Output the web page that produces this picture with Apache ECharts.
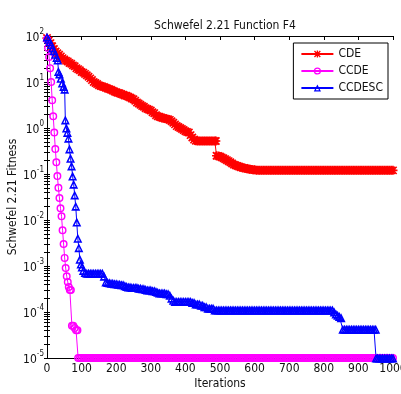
<!DOCTYPE html>
<html>
<head>
<meta charset="utf-8" />
<title>Schwefel 2.21 Function F4</title>
<script src="https://cdn.jsdelivr.net/npm/echarts@6/dist/echarts.min.js"></script>
<style>
  * { margin: 0; padding: 0; }
  html, body { width: 401px; height: 394px; background: #fff; overflow: hidden; }
</style>
</head>
<body>
<div id="main" style="width: 401px; height: 394px;"></div>
<script>
// [iteration, fitness] (markers every few iterations, like the original)
const cde = [
  [0,90],[5,80],[10,70],[15,60],[20,52],[25,46],[30,42],[35,39],[40,36],[45,33],
  [50,31],[55,29],[60,28],[65,26],[70,25],[75,23],[80,22],[85,20],[90,19],[95,18],
  [100,16.5],[105,16],[110,15],[115,14],[120,13],[125,12],[130,11],[135,10],[140,9.5],[145,9],
  [150,8.5],[155,8.2],[160,8],[165,7.8],[170,7.5],[175,7.2],[180,7],[185,6.8],[190,6.5],[195,6.2],
  [200,6],[205,5.8],[210,5.7],[215,5.5],[220,5.3],[225,5.1],[230,5],[235,4.8],[240,4.6],[245,4.4],
  [250,4.2],[255,3.9],[260,3.6],[265,3.4],[270,3.2],[275,3.0],[280,2.9],[285,2.7],[290,2.6],[295,2.5],
  [300,2.4],[305,2.2],[310,2.1],[315,1.9],[320,1.8],[325,1.75],[330,1.7],[335,1.65],[340,1.6],[345,1.58],
  [350,1.55],[355,1.5],[360,1.4],[365,1.3],[370,1.2],[375,1.1],[380,1.05],[385,1.0],[390,0.95],[395,0.9],
  [400,0.85],[405,0.82],[410,0.8],[415,0.7],[420,0.62],[425,0.56],[430,0.53],[435,0.52],[440,0.52],[445,0.52],
  [450,0.52],[455,0.52],[460,0.52],[465,0.52],[470,0.52],[475,0.52],[480,0.52],[485,0.52],[488,0.52],[490,0.25],
  [495,0.245],[500,0.24],[505,0.23],[510,0.22],[515,0.21],[520,0.2],[525,0.19],[530,0.18],[535,0.17],[540,0.16],
  [545,0.155],[550,0.15],[555,0.145],[560,0.14],[565,0.137],[570,0.135],[575,0.132],[580,0.13],[585,0.127],[590,0.125],
  [595,0.124],[600,0.123],[605,0.12],[610,0.12],[615,0.12],[620,0.12],[625,0.12],[630,0.12],[635,0.12],[640,0.12],
  [645,0.12],[650,0.12],[655,0.12],[660,0.12],[665,0.12],[670,0.12],[675,0.12],[680,0.12],[685,0.12],[690,0.12],
  [695,0.12],[700,0.12],[705,0.12],[710,0.12],[715,0.12],[720,0.12],[725,0.12],[730,0.12],[735,0.12],[740,0.12],
  [745,0.12],[750,0.12],[755,0.12],[760,0.12],[765,0.12],[770,0.12],[775,0.12],[780,0.12],[785,0.12],[790,0.12],
  [795,0.12],[800,0.12],[805,0.12],[810,0.12],[815,0.12],[820,0.12],[825,0.12],[830,0.12],[835,0.12],[840,0.12],
  [845,0.12],[850,0.12],[855,0.12],[860,0.12],[865,0.12],[870,0.12],[875,0.12],[880,0.12],[885,0.12],[890,0.12],
  [895,0.12],[900,0.12],[905,0.12],[910,0.12],[915,0.12],[920,0.12],[925,0.12],[930,0.12],[935,0.12],[940,0.12],
  [945,0.12],[950,0.12],[955,0.12],[960,0.12],[965,0.12],[970,0.12],[975,0.12],[980,0.12],[985,0.12],[990,0.12],
  [995,0.12],[1000,0.12]
];

const ccde = [
  [0,85],[3,55],[6,35],[9,20],[12,10],[15,4],[18,1.8],[21,0.8],[24,0.35],[27,0.18],
  [30,0.09],[33,0.05],[36,0.03],[39,0.018],[42,0.012],[45,0.006],[48,0.003],[51,0.0015],[54,0.0009],[57,0.0006],
  [60,0.00045],[63,0.00035],[66,0.0003],[69,0.0003],[72,5e-5],[76,5e-5],[80,4.5e-5],[84,4e-5],[88,4e-5],[90,1e-5],
  [95,1e-5],[100,1e-5],[105,1e-5],[110,1e-5],[115,1e-5],[120,1e-5],[125,1e-5],[130,1e-5],[135,1e-5],[140,1e-5],
  [145,1e-5],[150,1e-5],[155,1e-5],[160,1e-5],[165,1e-5],[170,1e-5],[175,1e-5],[180,1e-5],[185,1e-5],[190,1e-5],
  [195,1e-5],[200,1e-5],[205,1e-5],[210,1e-5],[215,1e-5],[220,1e-5],[225,1e-5],[230,1e-5],[235,1e-5],[240,1e-5],
  [245,1e-5],[250,1e-5],[255,1e-5],[260,1e-5],[265,1e-5],[270,1e-5],[275,1e-5],[280,1e-5],[285,1e-5],[290,1e-5],
  [295,1e-5],[300,1e-5],[305,1e-5],[310,1e-5],[315,1e-5],[320,1e-5],[325,1e-5],[330,1e-5],[335,1e-5],[340,1e-5],
  [345,1e-5],[350,1e-5],[355,1e-5],[360,1e-5],[365,1e-5],[370,1e-5],[375,1e-5],[380,1e-5],[385,1e-5],[390,1e-5],
  [395,1e-5],[400,1e-5],[405,1e-5],[410,1e-5],[415,1e-5],[420,1e-5],[425,1e-5],[430,1e-5],[435,1e-5],[440,1e-5],
  [445,1e-5],[450,1e-5],[455,1e-5],[460,1e-5],[465,1e-5],[470,1e-5],[475,1e-5],[480,1e-5],[485,1e-5],[490,1e-5],
  [495,1e-5],[500,1e-5],[505,1e-5],[510,1e-5],[515,1e-5],[520,1e-5],[525,1e-5],[530,1e-5],[535,1e-5],[540,1e-5],
  [545,1e-5],[550,1e-5],[555,1e-5],[560,1e-5],[565,1e-5],[570,1e-5],[575,1e-5],[580,1e-5],[585,1e-5],[590,1e-5],
  [595,1e-5],[600,1e-5],[605,1e-5],[610,1e-5],[615,1e-5],[620,1e-5],[625,1e-5],[630,1e-5],[635,1e-5],[640,1e-5],
  [645,1e-5],[650,1e-5],[655,1e-5],[660,1e-5],[665,1e-5],[670,1e-5],[675,1e-5],[680,1e-5],[685,1e-5],[690,1e-5],
  [695,1e-5],[700,1e-5],[705,1e-5],[710,1e-5],[715,1e-5],[720,1e-5],[725,1e-5],[730,1e-5],[735,1e-5],[740,1e-5],
  [745,1e-5],[750,1e-5],[755,1e-5],[760,1e-5],[765,1e-5],[770,1e-5],[775,1e-5],[780,1e-5],[785,1e-5],[790,1e-5],
  [795,1e-5],[800,1e-5],[805,1e-5],[810,1e-5],[815,1e-5],[820,1e-5],[825,1e-5],[830,1e-5],[835,1e-5],[840,1e-5],
  [845,1e-5],[850,1e-5],[855,1e-5],[860,1e-5],[865,1e-5],[870,1e-5],[875,1e-5],[880,1e-5],[885,1e-5],[890,1e-5],
  [895,1e-5],[900,1e-5],[905,1e-5],[910,1e-5],[915,1e-5],[920,1e-5],[925,1e-5],[930,1e-5],[935,1e-5],[940,1e-5],
  [945,1e-5],[950,1e-5],[955,1e-5],[960,1e-5],[965,1e-5],[970,1e-5],[975,1e-5],[980,1e-5],[985,1e-5],[990,1e-5],
  [995,1e-5],[1000,1e-5]
];

const ccdesc = [
  [0,95],[4,85],[8,75],[12,65],[16,55],[20,48],[24,40],[28,34],[31,30],[33,17],
  [36,15],[40,12],[44,9.5],[48,8],[51,7],[53,1.5],[56,1.0],[59,0.8],[62,0.6],[65,0.35],
  [68,0.22],[71,0.15],[74,0.09],[77,0.06],[80,0.035],[83,0.02],[86,0.009],[89,0.004],[92,0.0025],[95,0.0014],
  [98,0.0011],[101,0.00095],[105,0.0008],[110,0.00072],[115,0.0007],[120,0.0007],[125,0.0007],[130,0.0007],[135,0.0007],[140,0.0007],
  [145,0.0007],[150,0.0007],[155,0.0007],[160,0.0007],[165,0.0006],[170,0.00045],[175,0.00044],[180,0.00043],[185,0.00042],[190,0.00042],
  [195,0.00041],[200,0.00041],[205,0.0004],[210,0.0004],[215,0.00039],[220,0.00039],[225,0.00037],[230,0.00036],[235,0.00035],[240,0.00035],
  [245,0.00034],[250,0.00034],[255,0.00034],[260,0.00034],[265,0.00033],[270,0.00033],[275,0.00032],[280,0.00032],[285,0.00031],[290,0.0003],
  [295,0.0003],[300,0.0003],[305,0.00029],[310,0.00029],[315,0.00028],[320,0.00027],[325,0.00026],[330,0.00026],[335,0.00026],[340,0.00026],
  [345,0.00025],[350,0.00025],[355,0.00023],[360,0.0002],[365,0.00018],[370,0.00017],[375,0.00017],[380,0.00017],[385,0.00017],[390,0.00017],
  [395,0.00017],[400,0.00017],[405,0.00017],[410,0.00017],[415,0.00017],[420,0.00016],[425,0.00016],[430,0.00015],[435,0.00015],[440,0.00015],
  [445,0.00014],[450,0.00014],[455,0.00013],[460,0.00013],[465,0.00012],[470,0.00012],[475,0.00012],[480,0.00012],[485,0.00011],[490,0.00011],
  [495,0.00011],[500,0.00011],[505,0.00011],[510,0.00011],[515,0.00011],[520,0.00011],[525,0.00011],[530,0.00011],[535,0.00011],[540,0.00011],
  [545,0.00011],[550,0.00011],[555,0.00011],[560,0.00011],[565,0.00011],[570,0.00011],[575,0.00011],[580,0.00011],[585,0.00011],[590,0.00011],
  [595,0.00011],[600,0.00011],[605,0.00011],[610,0.00011],[615,0.00011],[620,0.00011],[625,0.00011],[630,0.00011],[635,0.00011],[640,0.00011],
  [645,0.00011],[650,0.00011],[655,0.00011],[660,0.00011],[665,0.00011],[670,0.00011],[675,0.00011],[680,0.00011],[685,0.00011],[690,0.00011],
  [695,0.00011],[700,0.00011],[705,0.00011],[710,0.00011],[715,0.00011],[720,0.00011],[725,0.00011],[730,0.00011],[735,0.00011],[740,0.00011],
  [745,0.00011],[750,0.00011],[755,0.00011],[760,0.00011],[765,0.00011],[770,0.00011],[775,0.00011],[780,0.00011],[785,0.00011],[790,0.00011],
  [795,0.00011],[800,0.00011],[805,0.00011],[810,0.00011],[815,0.00011],[820,0.00011],[825,0.00011],[830,0.0001],[835,9e-5],[840,8.5e-5],
  [845,8e-5],[850,7.5e-5],[855,4.2e-5],[860,4.2e-5],[865,4.2e-5],[870,4.2e-5],[875,4.2e-5],[880,4.2e-5],[885,4.2e-5],[890,4.2e-5],
  [895,4.2e-5],[900,4.2e-5],[905,4.2e-5],[910,4.2e-5],[915,4.2e-5],[920,4.2e-5],[925,4.2e-5],[930,4.2e-5],[935,4.2e-5],[940,4.2e-5],
  [945,4.2e-5],[950,4.2e-5],[951,1e-5],[955,1e-5],[960,1e-5],[965,1e-5],[970,1e-5],[975,1e-5],[980,1e-5],[985,1e-5],
  [990,1e-5],[995,1e-5],[1000,1e-5]
];

const yMajor = [1e-5, 1e-4, 1e-3, 1e-2, 1e-1, 1, 10, 100];
const yMinor = [];
for (let e = -5; e < 2; e++) {
  for (let k = 2; k <= 9; k++) yMinor.push(k * Math.pow(10, e));
}

const FONT = "'Liberation Sans Narrow', 'DejaVu Sans Condensed', Arial, sans-serif";

// outline-only markers, like MATLAB's
const starPath = 'path://M4.1,0H5.9V4.1H10V5.9H5.9V10H4.1V5.9H0V4.1H4.1Z' +
  'M1.6,0.3L9.7,8.4L8.4,9.7L0.3,1.6Z M8.4,0.3L9.7,1.6L1.6,9.7L0.3,8.4Z';
const ringPath = 'path://M5,0A5,5,0,1,1,4.999,0ZM5,1.8A3.2,3.2,0,1,0,5.001,1.8Z';
const triPath = 'path://M5,0L10,9L0,9ZM5,3.3L2.7,7.4L7.3,7.4Z';

const chart = echarts.init(document.getElementById('main'));

const tickStyle = { color: '#000', width: 1 };

const option = {
  animation: false,
  backgroundColor: '#fff',
  textStyle: { fontFamily: FONT },
  title: {
    text: 'Schwefel 2.21 Function F4',
    left: 220,
    textAlign: 'center',
    top: 15,
    textStyle: { fontFamily: FONT, fontSize: 12, fontWeight: 'normal', color: '#111' }
  },
  legend: {
    orient: 'vertical',
    right: 13,
    top: 43,
    padding: [5, 5, 5, 7],
    itemGap: 5,
    itemWidth: 32,
    itemHeight: 9,
    borderColor: '#000',
    borderWidth: 1,
    borderRadius: 0,
    backgroundColor: '#fff',
    textStyle: { fontFamily: FONT, fontSize: 12, color: '#111' },
    data: ['CDE', 'CCDE', 'CCDESC']
  },
  grid: { left: 47, right: 8, top: 36, bottom: 36, containLabel: false, outerBoundsMode: 'none' },
  xAxis: [
    {
      type: 'value', min: 0, max: 1000, interval: 100, position: 'bottom',
      name: 'Iterations', nameLocation: 'middle', nameGap: 20, nameMoveOverlap: false,
      nameTextStyle: { fontFamily: FONT, fontSize: 12, color: '#111' },
      axisLine: { lineStyle: tickStyle },
      axisTick: { inside: true, length: 4, lineStyle: tickStyle },
      axisLabel: { fontFamily: FONT, fontSize: 12, color: '#111', margin: 5, formatter: v => String(v) },
      splitLine: { show: false }
    },
    {
      type: 'value', min: 0, max: 1000, interval: 100, position: 'top',
      axisLine: { lineStyle: tickStyle },
      axisTick: { inside: true, length: 4, lineStyle: tickStyle },
      axisLabel: { show: false },
      splitLine: { show: false }
    }
  ],
  yAxis: [
    {
      type: 'log', logBase: 10, min: 1e-5, max: 100, position: 'left',
      name: 'Schwefel 2.21 Fitness', nameLocation: 'middle', nameGap: 28, nameMoveOverlap: false,
      nameTextStyle: { fontFamily: FONT, fontSize: 12, color: '#111' },
      axisLine: { lineStyle: tickStyle },
      axisTick: { inside: true, length: 3, lineStyle: tickStyle, customValues: yMajor.concat(yMinor) },
      axisLabel: {
        margin: 3,
        formatter: function (v) {
          return '{b|10}{e|' + Math.round(Math.log10(v)) + '}';
        },
        rich: {
          b: { fontFamily: FONT, fontSize: 12, color: '#111', lineHeight: 16, verticalAlign: 'bottom' },
          e: { fontFamily: FONT, fontSize: 8, color: '#111', lineHeight: 16, verticalAlign: 'top' }
        }
      },
      splitLine: { show: false }
    },
    {
      type: 'log', logBase: 10, min: 1e-5, max: 100, position: 'right',
      axisLine: { lineStyle: tickStyle },
      axisTick: { inside: true, length: 3, lineStyle: tickStyle, customValues: yMajor.concat(yMinor) },
      axisLabel: { show: false },
      splitLine: { show: false }
    }
  ],
  series: [
    {
      name: 'CDE', type: 'line', data: cde,
      symbol: starPath, symbolSize: 9,
      itemStyle: { color: '#ff0000' },
      lineStyle: { color: '#ff0000', width: 1 }
    },
    {
      name: 'CCDE', type: 'line', data: ccde,
      symbol: ringPath, symbolSize: 8,
      itemStyle: { color: '#ff00ff' },
      lineStyle: { color: '#ff00ff', width: 1 }
    },
    {
      name: 'CCDESC', type: 'line', data: ccdesc,
      symbol: triPath, symbolSize: 9,
      itemStyle: { color: '#0000ff' },
      lineStyle: { color: '#0000ff', width: 1 }
    }
  ]
};

chart.setOption(option);
</script>
</body>
</html>
